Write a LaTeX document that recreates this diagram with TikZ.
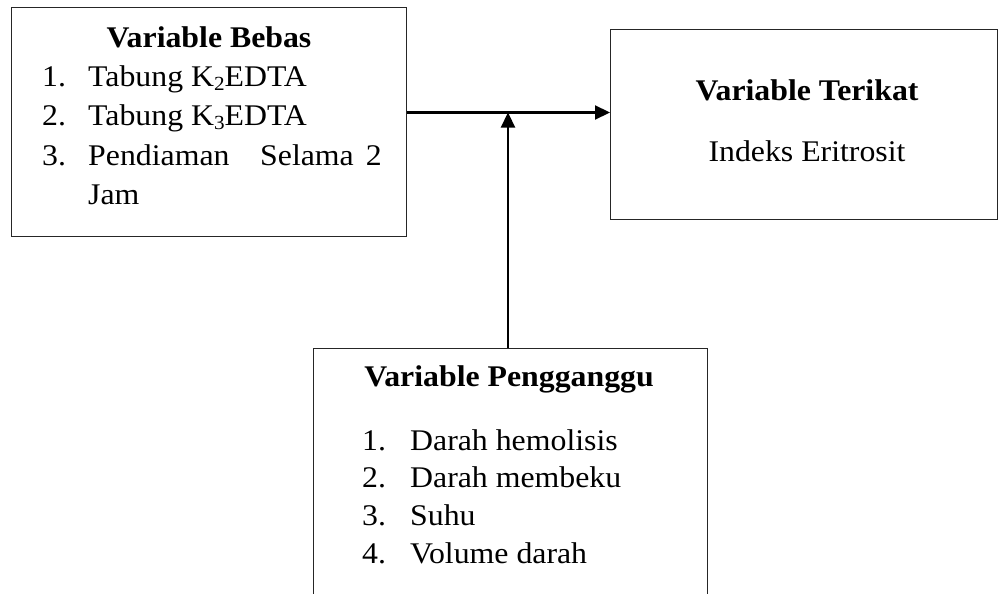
\documentclass[tikz,border=0pt]{standalone}
\usepackage{fontspec}
\setmainfont{Liberation Serif}[FakeStretch=1.06]
\usetikzlibrary{arrows.meta}
\newcommand{\mysub}[1]{\raisebox{-4pt}{\fontsize{20}{20}\selectfont #1}}
\begin{document}
\begin{tikzpicture}[x=1pt,y=-1pt,
  box/.style={draw=black!85,line width=1.2pt,rectangle,inner sep=0pt,anchor=north west},
  txt/.style={inner sep=0pt,anchor=base west,font=\fontsize{30}{36}\selectfont},
  ttl/.style={inner sep=0pt,anchor=base,font=\fontsize{30}{36}\selectfont\bfseries},
  arr/.style={line width=2.2pt,-{Triangle[length=15pt,width=14pt]}}]
\useasboundingbox (0,0) rectangle (999,594);
\clip (0,0) rectangle (999,594);
% boxes
\node[box,minimum width=395pt,minimum height=229pt] (bebas) at (11,7) {};
\node[box,minimum width=387pt,minimum height=190pt] (terikat) at (610,29) {};
\node[box,minimum width=394pt,minimum height=280pt] (pg) at (313,348) {};
% left box text
\node[ttl] (t1) at (209,48) {Variable Bebas};
\node[txt] (b1n) at (42,86) {1.};
\node[txt] (b1) at (88,86) {Tabung K\mysub{2}EDTA};
\node[txt] (b2n) at (42,125) {2.};
\node[txt] (b2) at (88,125) {Tabung K\mysub{3}EDTA};
\node[txt] (b3n) at (42,165) {3.};
\node[txt] (b3a) at (88,165) {Pendiaman};
\node[txt] (b3b) at (260,165) {Selama};
\node[txt,anchor=base east] (b3c) at (382,165) {2};
\node[txt] (b3d) at (88,204) {Jam};
% right box text
\node[ttl] (t2) at (807,100) {Variable Terikat};
\node[txt,anchor=base] (r1) at (807,161.7) {Indeks Eritrosit};
% bottom box text
\node[ttl] (t3) at (509,386.7) {Variable Pengganggu};
\node[txt] (p1n) at (362,450) {1.};
\node[txt] (p1) at (410,450) {Darah hemolisis};
\node[txt] (p2n) at (362,487.7) {2.};
\node[txt] (p2) at (410,487.7) {Darah membeku};
\node[txt] (p3n) at (362,525.3) {3.};
\node[txt] (p3) at (410,525.3) {Suhu};
\node[txt] (p4n) at (362,563) {4.};
\node[txt] (p4) at (410,563) {Volume darah};
% connectors
\coordinate (h) at (0,112.5);
\coordinate (vx) at (508,0);
\draw[arr] (h -| bebas.east) -- (h -| terikat.west);
\draw[arr] (vx |- pg.north) -- (vx |- h);
\end{tikzpicture}
\end{document}
